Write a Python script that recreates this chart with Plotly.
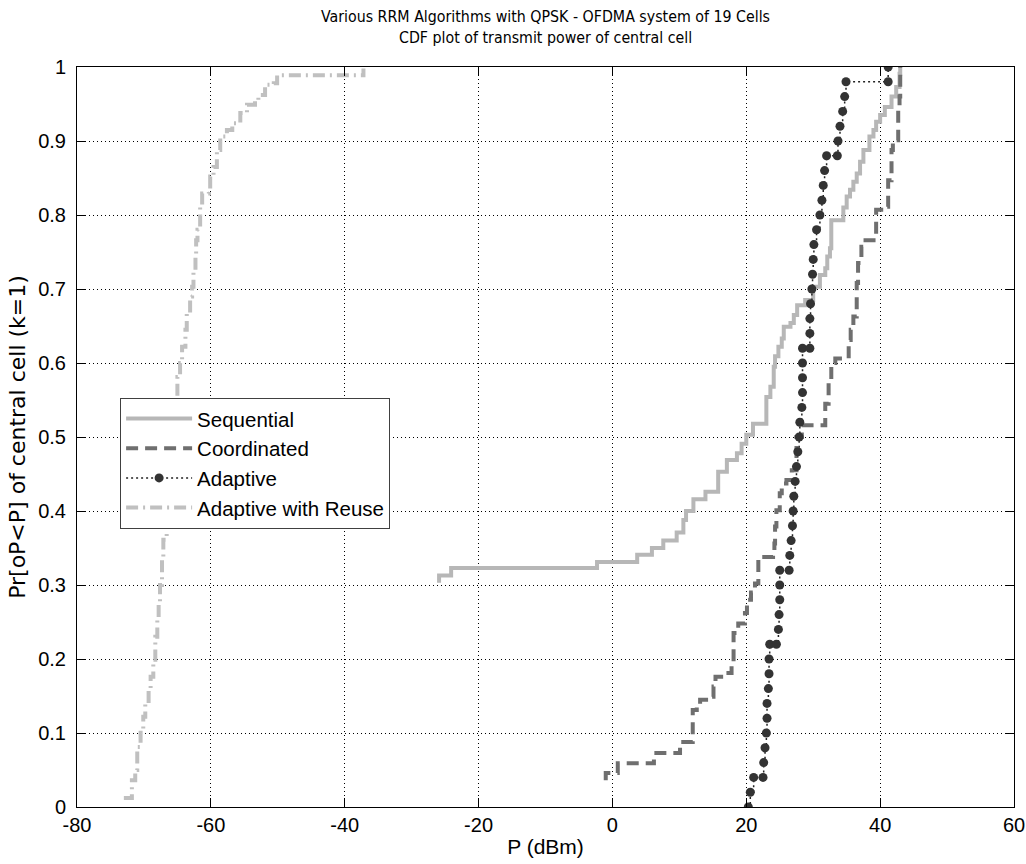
import plotly.graph_objects as go

# ---------------- data ----------------
title_line1 = "Various RRM Algorithms with QPSK - OFDMA system of 19 Cells"
title_line2 = "CDF plot of transmit power of central cell"
x_title = "P (dBm)"
y_title = "Pr[oP<P] of central cell (k=1)"

series_names = ["Sequential", "Coordinated", "Adaptive", "Adaptive with Reuse"]

seq_x = [-25.9, -25.9, -24.1, -2.3, 3.7, 5.9, 7.6, 9.6, 10.6, 11.0, 12.1, 13.9, 15.8,
         17.1, 18.6, 19.3, 20.0, 21.0, 23.0, 23.6, 24.1, 24.3, 24.8, 25.3, 25.6, 26.6,
         27.1, 27.6, 28.8, 30.0, 31.0, 31.8, 32.1, 32.5, 32.7, 34.5, 35.0, 35.5, 36.0,
         36.5, 37.0, 37.5, 38.4, 39.0, 39.4, 40.0, 40.7, 41.7, 42.4, 42.9, 43.0]
seq_y = [0.303, 0.313, 0.323, 0.331, 0.341, 0.350, 0.360, 0.371, 0.388, 0.400, 0.416,
         0.426, 0.453, 0.469, 0.478, 0.491, 0.503, 0.518, 0.554, 0.568, 0.595, 0.609,
         0.622, 0.633, 0.649, 0.654, 0.665, 0.678, 0.685, 0.703, 0.719, 0.728, 0.744,
         0.755, 0.793, 0.810, 0.825, 0.834, 0.845, 0.856, 0.872, 0.888, 0.906, 0.915,
         0.926, 0.935, 0.946, 0.960, 0.973, 0.991, 1.000]

coord_x = [-1.0, -1.0, 0.8, 6.2, 10.1, 12.0, 12.6, 13.1, 14.6, 15.1, 15.4, 16.8, 17.8,
           18.1, 18.8, 19.8, 20.1, 20.7, 21.3, 21.8, 24.0, 24.2, 24.3, 24.5, 25.0, 25.3,
           26.0, 26.8, 27.5, 28.3, 31.8, 32.3, 32.7, 33.3, 35.3, 35.6, 36.0, 36.5, 36.7,
           37.2, 37.5, 39.4, 41.0, 41.2, 41.7, 41.9, 42.4, 42.7, 42.9, 43.0]
coord_y = [0.036, 0.046, 0.059, 0.073, 0.088, 0.131, 0.135, 0.145, 0.149, 0.163, 0.176,
           0.181, 0.194, 0.235, 0.248, 0.262, 0.280, 0.290, 0.302, 0.338, 0.341, 0.356,
           0.379, 0.401, 0.424, 0.437, 0.442, 0.455, 0.500, 0.516, 0.545, 0.573, 0.600,
           0.606, 0.631, 0.645, 0.663, 0.708, 0.735, 0.757, 0.766, 0.807, 0.811, 0.847,
           0.888, 0.897, 0.901, 0.946, 0.960, 1.000]

adapt_x = [20.3, 20.6, 21.1, 22.5, 22.6, 22.8, 23.0, 23.1, 23.1, 23.3, 23.4, 23.4, 23.5,
           24.5, 24.8, 24.9, 25.0, 25.0, 25.0, 26.4, 26.5, 26.7, 26.9, 27.0, 27.1, 27.3,
           27.5, 27.7, 27.9, 28.0, 28.3, 28.4, 28.4, 28.4, 28.4, 29.5, 29.5, 29.5, 29.6,
           29.8, 29.9, 30.0, 30.1, 30.5, 31.0, 31.3, 31.5, 31.7, 32.0, 33.6, 33.7, 34.0,
           34.4, 34.7, 34.9, 41.2, 41.2]
adapt_y = [0.00, 0.02, 0.04, 0.04, 0.06, 0.08, 0.10, 0.12, 0.14, 0.16, 0.18, 0.20, 0.22,
           0.22, 0.24, 0.26, 0.28, 0.30, 0.32, 0.32, 0.34, 0.36, 0.38, 0.40, 0.42, 0.44,
           0.46, 0.48, 0.50, 0.52, 0.54, 0.56, 0.58, 0.60, 0.62, 0.62, 0.64, 0.66, 0.68,
           0.70, 0.72, 0.74, 0.76, 0.78, 0.80, 0.82, 0.84, 0.86, 0.88, 0.88, 0.90, 0.92,
           0.94, 0.96, 0.98, 0.98, 1.00]

reuse_x = [-73.0, -71.8, -71.3, -71.0, -70.5, -70.1, -69.8, -69.3, -69.0, -68.6, -68.3,
           -68.0, -67.8, -67.6, -67.3, -67.1, -66.6, -66.4, -65.2, -65.0, -64.6, -64.3,
           -63.8, -63.6, -63.1, -62.8, -62.6, -62.3, -62.2, -62.0, -61.6, -61.3, -60.3,
           -60.1, -59.6, -59.1, -58.6, -57.6, -56.8, -55.6, -54.6, -53.4, -52.9, -51.9,
           -50.6, -50.1, -37.2]
reuse_y = [0.012, 0.036, 0.050, 0.081, 0.104, 0.122, 0.140, 0.158, 0.176, 0.199, 0.230,
           0.253, 0.275, 0.300, 0.334, 0.361, 0.388, 0.400, 0.552, 0.581, 0.600, 0.622,
           0.645, 0.667, 0.690, 0.703, 0.726, 0.744, 0.766, 0.780, 0.811, 0.829, 0.831,
           0.852, 0.865, 0.888, 0.906, 0.915, 0.924, 0.938, 0.949, 0.951, 0.962, 0.976,
           0.978, 0.989, 0.998]

x_ticks = [-80, -60, -40, -20, 0, 20, 40, 60]
y_ticks = [0, 0.1, 0.2, 0.3, 0.4, 0.5, 0.6, 0.7, 0.8, 0.9, 1]
y_tick_labels = ["0", "0.1", "0.2", "0.3", "0.4", "0.5", "0.6", "0.7", "0.8", "0.9", "1"]

# ---------------- figure ----------------
FONT = "Liberation Sans, Arial, Helvetica, sans-serif"
TITLE_FONT = "DejaVu Sans Condensed, Liberation Sans, Arial, sans-serif"
YTITLE_FONT = "DejaVu Sans, Liberation Sans, Arial, sans-serif"

fig = go.Figure()

fig.add_trace(go.Scatter(
    x=seq_x, y=seq_y, name=series_names[0], mode="lines",
    line=dict(color="#b7b7b7", width=4, shape="hv"),
))
fig.add_trace(go.Scatter(
    x=coord_x, y=coord_y, name=series_names[1], mode="lines",
    line=dict(color="#6f6f6f", width=4, shape="hv", dash="12px,7px"),
))
fig.add_trace(go.Scatter(
    x=adapt_x, y=adapt_y, name=series_names[2], mode="lines+markers",
    line=dict(color="#222222", width=1.5, shape="hv", dash="2px,3px"),
    marker=dict(symbol="circle", size=9, color="#333333"),
))
fig.add_trace(go.Scatter(
    x=reuse_x, y=reuse_y, name=series_names[3], mode="lines",
    line=dict(color="#c0c0c0", width=4, shape="hv", dash="12px,5px,2px,5px"),
))

axis_common = dict(
    showline=True, linecolor="black", linewidth=1, mirror="ticks",
    ticks="inside", ticklen=9, tickcolor="black", tickwidth=1,
    showgrid=True, gridcolor="black", gridwidth=1, griddash="1px,3px",
    zeroline=False, tickfont=dict(family=FONT, size=20, color="black"),
    automargin=False,
)

fig.update_xaxes(
    range=[-80, 60], tickvals=x_ticks, ticktext=[str(v) for v in x_ticks],
    title=dict(text=x_title, font=dict(family=FONT, size=21, color="black"), standoff=4),
    **axis_common,
)
fig.update_yaxes(
    range=[0, 1], tickvals=y_ticks, ticktext=y_tick_labels,
    title=dict(text=y_title, font=dict(family=YTITLE_FONT, size=22, color="black"), standoff=6),
    ticklabelstandoff=6,
    **axis_common,
)

fig.add_annotation(text=title_line1, xref="paper", yref="paper", x=0.5, y=1.0676,
                   xanchor="center", yanchor="middle", showarrow=False,
                   font=dict(family=TITLE_FONT, size=15.8, color="black"))
fig.add_annotation(text=title_line2, xref="paper", yref="paper", x=0.5, y=1.0392,
                   xanchor="center", yanchor="middle", showarrow=False,
                   font=dict(family=TITLE_FONT, size=15.8, color="black"))

fig.update_layout(
    width=1026, height=864,
    margin=dict(l=77, r=12, t=67, b=57),
    paper_bgcolor="white", plot_bgcolor="white",
    font=dict(family=FONT, color="black"),
    showlegend=True,
    legend=dict(
        x=0.046, y=0.553, xanchor="left", yanchor="top",
        bgcolor="white", bordercolor="#404040", borderwidth=1,
        font=dict(family=FONT, size=20.5, color="black"),
        itemwidth=66, tracegroupgap=0,
    ),
)

fig.write_html("out.html")
